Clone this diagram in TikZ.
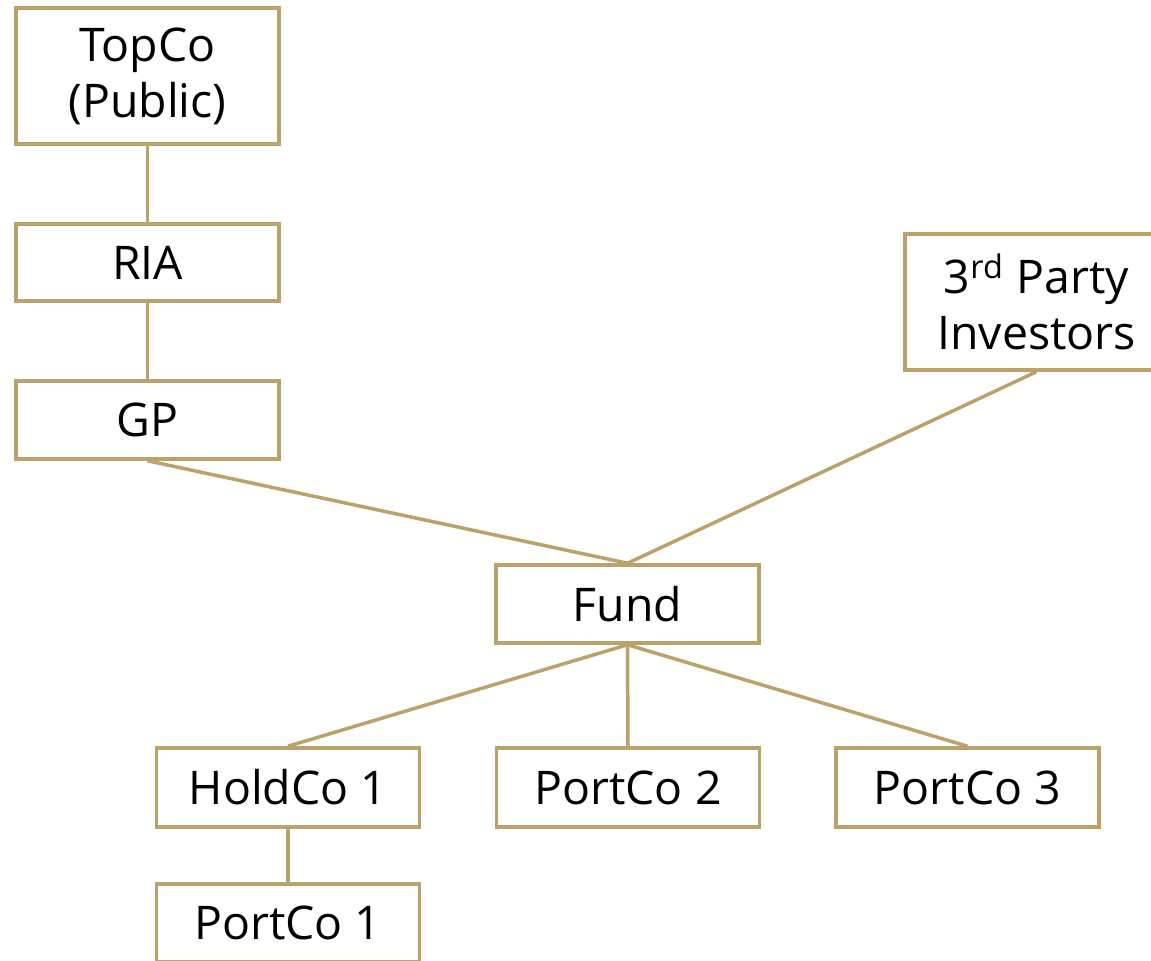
\documentclass[tikz,border=0pt]{standalone}
\usepackage{fontspec}
\setmainfont{Open Sans}
\definecolor{gold}{HTML}{BBA26B}
\begin{document}
\begin{tikzpicture}[
  box/.style={draw=gold, line width=0.035cm, fill=white, minimum width=2.63cm, minimum height=0.78cm, inner sep=0pt, align=center, font=\fontsize{13.2}{16}\selectfont, text=black},
  tall/.style={box, minimum height=1.36cm},
  link/.style={draw=gold, line width=0.035cm}
]
\useasboundingbox (0,0) rectangle (11.51,9.60);
\clip (0,0) rectangle (11.51,9.60);
\node[tall] (topco) at (1.475,8.84) {TopCo\\(Public)};
\node[box, minimum height=0.77cm] (ria) at (1.475,6.975) {RIA};
\node[box] (gp) at (1.475,5.40) {GP};
\node[tall] (third) at (10.365,6.58) {3\textsuperscript{rd} Party\\Investors};
\node[box] (fund) at (6.275,3.56) {Fund};
\node[box, minimum height=0.79cm] (holdco) at (2.88,1.725) {HoldCo 1};
\node[box, minimum height=0.79cm] (port2) at (6.28,1.725) {PortCo 2};
\node[box, minimum height=0.79cm] (port3) at (9.675,1.725) {PortCo 3};
\node[box] (port1) at (2.88,0.37) {PortCo 1};
\draw[link] (topco.south) -- (ria.north);
\draw[link] (ria.south) -- (gp.north);
\draw[link] (gp.south) -- (fund.north);
\draw[link] (third.south) -- (fund.north);
\draw[link] (fund.south) -- (holdco.north);
\draw[link] (fund.south) -- (port2.north);
\draw[link] (fund.south) -- (port3.north);
\draw[link] (holdco.south) -- (port1.north);
\end{tikzpicture}
\end{document}
